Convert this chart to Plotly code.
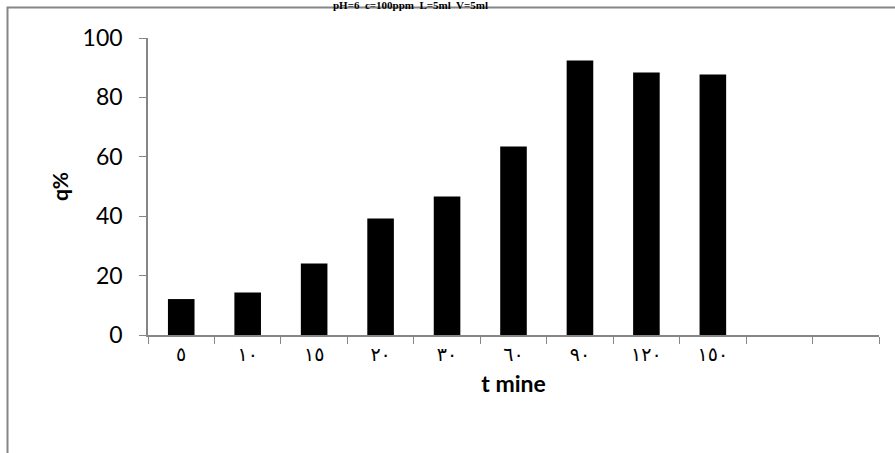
import plotly.graph_objects as go

# Data
time_labels = ["٥", "١٠", "١٥", "٢٠", "٣٠", "٦٠", "٩٠", "١٢٠", "١٥٠"]
empty_slots = [" ", "  "]
q_percent = [12.1, 14.3, 24.1, 39.2, 46.6, 63.5, 92.4, 88.4, 87.7]
y_ticks = [0, 20, 40, 60, 80, 100]
title_text = "pH=6  c=100ppm  L=5ml  V=5ml"

W, H = 895, 453
L, R, T, B = 148, 16, 38, 118
pw, ph = W - L - R, H - T - B

def px_x(p):
    return (p - L) / pw

def px_y(p):
    return (H - B - p) / ph

fig = go.Figure()
fig.add_trace(go.Bar(
    x=time_labels, y=q_percent,
    marker=dict(color="black", line=dict(width=0)),
    width=0.4,
))

fig.update_layout(
    width=W, height=H,
    margin=dict(l=L, r=R, t=T, b=B, pad=0),
    paper_bgcolor="white", plot_bgcolor="white",
    showlegend=False,
    xaxis=dict(
        type="category",
        categoryorder="array",
        categoryarray=time_labels + empty_slots,
        range=[-0.5, len(time_labels) + len(empty_slots) - 0.5],
        tickson="boundaries",
        ticks="outside", ticklen=7, tickcolor="#868686", tickwidth=1,
        showline=True, linecolor="#868686", linewidth=1.5,
        showgrid=False, zeroline=False,
        tickfont=dict(family="DejaVu Sans", size=19, color="black"),
        ticklabelstandoff=1,
        title=dict(text="<b>t mine</b>", font=dict(family="Lato", size=23, color="black"), standoff=12),
    ),
    yaxis=dict(
        range=[0, 100],
        tickvals=y_ticks,
        ticks="outside", ticklen=7, tickcolor="#868686", tickwidth=1,
        showline=True, linecolor="#868686", linewidth=1.5,
        showgrid=False, zeroline=False,
        tickfont=dict(family="Lato", size=23, color="black"),
        ticklabelstandoff=12,
        title=dict(text="<b>q%</b>", font=dict(family="Lato", size=21, color="black"), standoff=8),
    ),
    shapes=[
        dict(type="rect", xref="paper", yref="paper",
             x0=px_x(7.5), x1=px_x(W + 10), y0=px_y(H + 10), y1=px_y(7.5),
             line=dict(color="#868686", width=2), fillcolor="rgba(0,0,0,0)", layer="below"),
    ],
    annotations=[
        dict(text="<b>" + title_text + "</b>", xref="paper", yref="paper",
             x=px_x(410), y=px_y(-2), xanchor="center", yanchor="top",
             showarrow=False, borderpad=0,
             font=dict(family="Liberation Serif", size=11, color="black")),
    ],
)

fig.write_html("out.html")
